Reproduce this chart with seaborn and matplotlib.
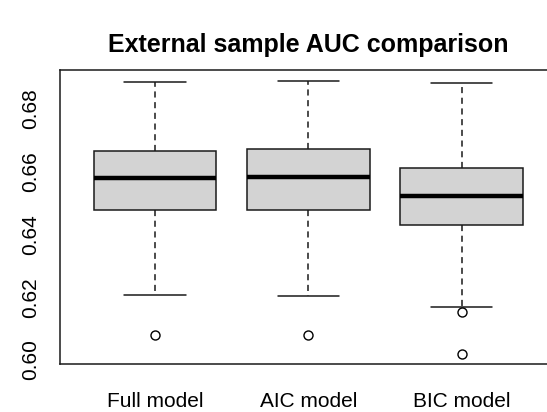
import matplotlib
matplotlib.use("Agg")
import matplotlib.pyplot as plt
import seaborn as sns
import pandas as pd

# Values (each sample reproduces the drawn box summary)
categories = ["Full model", "AIC model", "BIC model"]
full_auc = [0.6080, 0.6206, 0.6479, 0.6479, 0.6581, 0.6581, 0.6666, 0.6666, 0.6887]
aic_auc = [0.6080, 0.6204, 0.6479, 0.6479, 0.6583, 0.6583, 0.6673, 0.6673, 0.6889]
bic_auc = [0.6020, 0.6152, 0.6170, 0.6431, 0.6431, 0.6523, 0.6523, 0.6523,
           0.6613, 0.6613, 0.6613, 0.6613, 0.6882]
y_ticks = [0.60, 0.62, 0.64, 0.66, 0.68]
title = "External sample AUC comparison"

df = pd.DataFrame({
    "model": [categories[0]] * len(full_auc) + [categories[1]] * len(aic_auc)
             + [categories[2]] * len(bic_auc),
    "auc": full_auc + aic_auc + bic_auc,
})

sns.set_style("white")
plt.rcParams["font.family"] = ["Liberation Sans", "DejaVu Sans"]
plt.rcParams["text.color"] = "black"

fig = plt.figure(figsize=(5.47, 4.12), dpi=100)
# plot region extends slightly past the right edge (cropped, as in the reference)
ax = fig.add_axes([60 / 547, 1 - 364.3 / 412, (556.7 - 60) / 547, (364.3 - 70) / 412])

sns.boxplot(
    data=df, x="model", y="auc", order=categories, ax=ax,
    color="#d3d3d3", saturation=1, width=0.8, whis=1.5, linecolor="#1a1a1a",
    linewidth=1.1,
    boxprops=dict(facecolor="#d3d3d3", edgecolor="#1a1a1a", linewidth=1.1),
    medianprops=dict(color="black", linewidth=3.2),
    whiskerprops=dict(color="#1a1a1a", linewidth=1.1, linestyle=(0, (4, 3))),
    capprops=dict(color="#1a1a1a", linewidth=1.1),
    flierprops=dict(marker="o", markersize=6.5, markerfacecolor="none",
                    markeredgecolor="black", markeredgewidth=1.0),
)

ax.set_xlim(-0.62, 2.62)
ax.set_ylim(0.59863, 0.69243)
ax.set_yticks(y_ticks)
ax.set_yticklabels([f"{v:.2f}" for v in y_ticks], rotation=90, va="center")
ax.set_xlabel("")
ax.set_ylabel("")
ax.tick_params(axis="both", which="both", length=8.6, width=1.0, color="#1a1a1a",
               labelsize=15, labelcolor="black", direction="out")
ax.tick_params(axis="y", pad=6)
ax.tick_params(axis="x", pad=11)
for s in ax.spines.values():
    s.set_color("#1a1a1a")
    s.set_linewidth(1.1)
    s.set_visible(True)

fig.text((60 + 556.7) / 2 / 547, 1 - 45 / 412, title, ha="center", va="center",
         fontsize=18, fontweight="bold", color="black")

fig.savefig("out.png", dpi=100)
